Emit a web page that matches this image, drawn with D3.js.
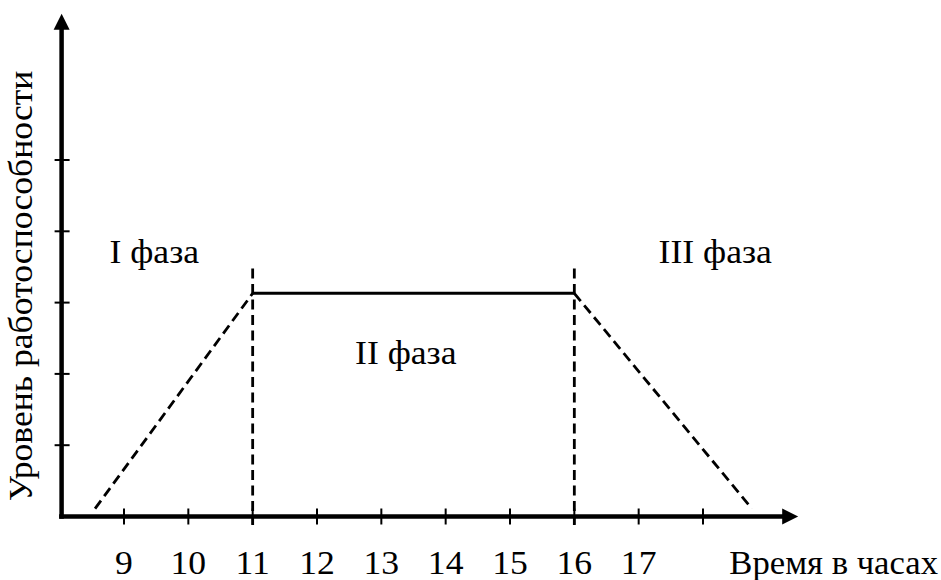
<!DOCTYPE html>
<html>
<head>
<meta charset="utf-8">
<script src="https://cdn.jsdelivr.net/npm/d3@7"></script>
<style>
  html, body { margin: 0; padding: 0; background: #fff; }
  svg { display: block; }
</style>
</head>
<body>
<svg id="chart" width="941" height="580"></svg>
<script>
// Hours of the working day shown on the time axis
const hourTicks = [9, 10, 11, 12, 13, 14, 15, 16, 17, 18];
const hourLabels = ["9", "10", "11", "12", "13", "14", "15", "16", "17"];
// Working-capacity level tick marks (unlabelled)
const levelTicks = [1, 2, 3, 4, 5];

// Working-capacity curve: warm-up, stable plateau, decline
const warmUp  = [[8.55, 0.11], [11, 3.13]];
const plateau = [[11, 3.13], [16, 3.13]];
const decline = [[16, 3.13], [18.76, 0.11]];

// Phase boundaries (vertical dashed markers)
const phaseBounds = [11, 16];
const boundSpan = [-0.12, 3.48];

// Phase captions
const phaseNames = ["I фаза", "II фаза", "III фаза"];
const phaseHours = [9.47, 13.38, 18.19];
const phaseLevels = [3.56, 2.14, 3.56];

// Axis extents
const xAxisStart = 8.03, xAxisEnd = 19.48;
const yAxisEnd = 7.05;

const xTitle = "Время в часах";
const yTitle = "Уровень работоспособности";

const FONT = "'Liberation Serif', 'Times New Roman', Tinos, 'DejaVu Serif', serif";
const FS = 33;
const WIDEN = 1.08; // slightly wider lettering
const DASH = "10,5.5";

const svg = d3.select("#chart");

const x = d3.scaleLinear().domain([9, 18]).range([124, 703]);
const y = d3.scaleLinear().domain([0, 5]).range([516.5, 160]);

const line = d3.line().x(d => x(d[0])).y(d => y(d[1]));

// Axes with arrowheads
const xEnd = x(xAxisEnd), yTop = y(yAxisEnd);
svg.append("line")
  .attr("x1", x(xAxisStart) - 2.5).attr("x2", xEnd - 12)
  .attr("y1", y(0)).attr("y2", y(0))
  .attr("stroke", "#000").attr("stroke-width", 4.5);
svg.append("line")
  .attr("x1", x(xAxisStart)).attr("x2", x(xAxisStart))
  .attr("y1", y(0) + 2.25).attr("y2", yTop + 12)
  .attr("stroke", "#000").attr("stroke-width", 4.5);
svg.append("path")
  .attr("d", `M${xEnd},${y(0)} L${xEnd - 16},${y(0) - 8} L${xEnd - 16},${y(0) + 8} Z`)
  .attr("fill", "#000");
svg.append("path")
  .attr("d", `M${x(xAxisStart)},${yTop} L${x(xAxisStart) - 8},${yTop + 16} L${x(xAxisStart) + 8},${yTop + 16} Z`)
  .attr("fill", "#000");

// Tick marks
svg.selectAll(".xtick").data(hourTicks).enter().append("line")
  .attr("class", "xtick")
  .attr("x1", d => x(d)).attr("x2", d => x(d))
  .attr("y1", y(0) - 8).attr("y2", y(0) + 8)
  .attr("stroke", "#000").attr("stroke-width", 2);
svg.selectAll(".ytick").data(levelTicks).enter().append("line")
  .attr("class", "ytick")
  .attr("x1", x(xAxisStart) - 7).attr("x2", x(xAxisStart) + 8)
  .attr("y1", d => y(d)).attr("y2", d => y(d))
  .attr("stroke", "#000").attr("stroke-width", 2);

// Hour labels
svg.selectAll(".xlabel").data(hourLabels).enter().append("text")
  .attr("class", "xlabel")
  .attr("transform", (d, i) => `translate(${x(hourTicks[i])},574) scale(${WIDEN},1)`)
  .attr("text-anchor", "middle")
  .attr("font-family", FONT).attr("font-size", FS)
  .text(d => d);

// Time axis title, right-aligned near the edge
svg.append("text")
  .attr("transform", `translate(938,574) scale(1.05,1)`)
  .attr("text-anchor", "end")
  .attr("font-family", FONT).attr("font-size", FS)
  .text(xTitle);

svg.append("text")
  .attr("transform", `translate(32,286) rotate(-90) scale(${WIDEN},1)`)
  .attr("text-anchor", "middle")
  .attr("font-family", FONT).attr("font-size", FS)
  .text(yTitle);

// Phase boundary markers
svg.selectAll(".bound").data(phaseBounds).enter().append("line")
  .attr("class", "bound")
  .attr("x1", d => x(d)).attr("x2", d => x(d))
  .attr("y1", y(boundSpan[1])).attr("y2", y(boundSpan[0]))
  .attr("stroke", "#000").attr("stroke-width", 2.8)
  .attr("stroke-dasharray", DASH);

// Curve
svg.append("path").attr("d", line(warmUp))
  .attr("fill", "none").attr("stroke", "#000").attr("stroke-width", 2.8)
  .attr("stroke-dasharray", DASH);
svg.append("path").attr("d", line(decline))
  .attr("fill", "none").attr("stroke", "#000").attr("stroke-width", 2.8)
  .attr("stroke-dasharray", DASH);
svg.append("path").attr("d", line(plateau))
  .attr("fill", "none").attr("stroke", "#000").attr("stroke-width", 3);

// Phase captions
svg.selectAll(".phase").data(phaseNames).enter().append("text")
  .attr("class", "phase")
  .attr("transform", (d, i) => `translate(${x(phaseHours[i])},${y(phaseLevels[i])}) scale(${WIDEN},1)`)
  .attr("text-anchor", "middle")
  .attr("font-family", FONT).attr("font-size", FS)
  .text(d => d);
</script>
</body>
</html>
